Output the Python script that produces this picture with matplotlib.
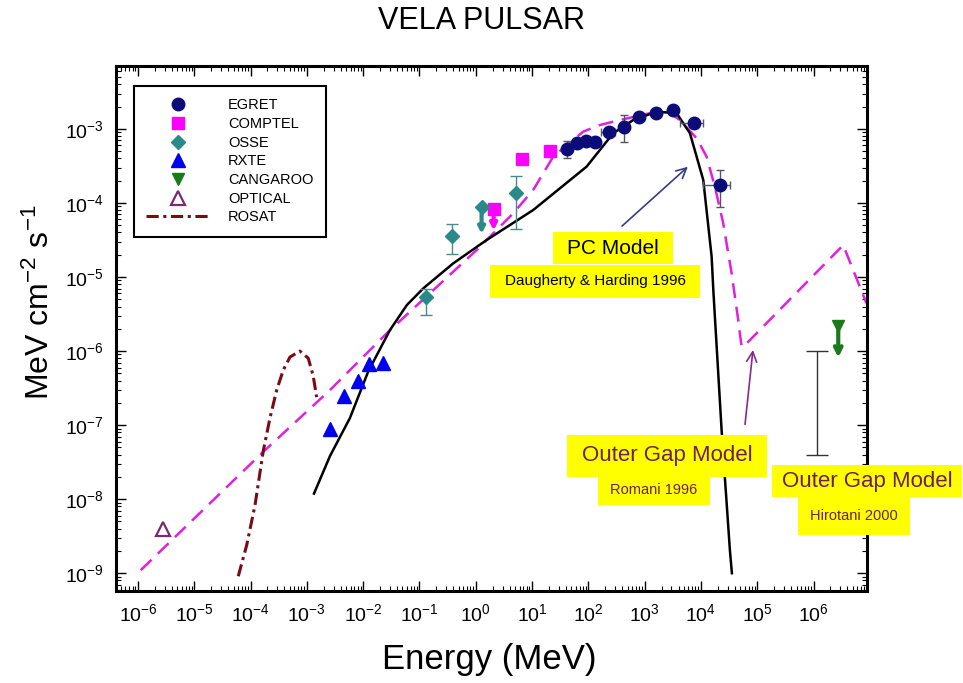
import matplotlib
matplotlib.use("Agg")
import matplotlib.pyplot as plt
import numpy as np
from matplotlib.patches import Rectangle
from matplotlib.ticker import LogLocator, NullFormatter

plt.rcParams["font.family"] = ["Liberation Sans", "DejaVu Sans"]
plt.rcParams["mathtext.default"] = "regular"
plt.rcParams["axes.unicode_minus"] = False

W, H = 963, 683

# --- observations (energy in MeV, flux in MeV cm^-2 s^-1) ---
egret_e = [42, 63, 91, 131, 235, 435, 800, 1585, 3220, 7500, 21800]
egret_f = [5.3e-4, 6.5e-4, 6.95e-4, 6.6e-4, 9.2e-4, 1.07e-3, 1.47e-3, 1.63e-3, 1.81e-3, 1.19e-3, 1.75e-4]
egret_f_lo = [4.1e-4, 6.5e-4, 6.95e-4, 6.6e-4, 9.2e-4, 6.7e-4, 1.47e-3, 1.63e-3, 1.81e-3, 1.19e-3, 8.9e-5]
egret_f_hi = [6.8e-4, 6.5e-4, 6.95e-4, 6.6e-4, 9.2e-4, 1.55e-3, 1.47e-3, 1.63e-3, 1.81e-3, 1.19e-3, 2.8e-4]
egret_e_lo = [42, 63, 91, 131, 165, 435, 800, 1585, 3220, 4240, 1.1e4]
egret_e_hi = [42, 63, 91, 131, 300, 435, 800, 1585, 3220, 1.1e4, 3.3e4]

comptel_e = [6.7, 20.8]
comptel_f = [3.94e-4, 5.1e-4]
comptel_ul_e = [2.08]
comptel_ul_f = [8.3e-5]
comptel_ul_to = [3.9e-5]

osse_e = [0.13, 0.373, 5.2]
osse_f = [5.4e-6, 3.6e-5, 1.38e-4]
osse_f_lo = [3.1e-6, 2.05e-5, 4.46e-5]
osse_f_hi = [7.0e-6, 5.2e-5, 2.3e-4]
osse_ul_e = [1.27]
osse_ul_f = [8.9e-5]
osse_ul_to = [3.5e-5]

rxte_e = [2.57e-3, 4.6e-3, 8.2e-3, 0.0127, 0.0227]
rxte_f = [9.0e-8, 2.47e-7, 3.9e-7, 6.6e-7, 6.8e-7]

cangaroo_e = [2.75e6]
cangaroo_f = [2.18e-6]
cangaroo_to = [7.5e-7]

optical_e = [2.8e-6]
optical_f = [4.0e-9]

hirotani_e = [1.16e6]
hirotani_lo = [3.9e-8]
hirotani_hi = [1.0e-6]

rosat_e = [6.05e-5, 8.53e-5, 1.20e-4, 1.68e-4, 2.21e-4, 2.91e-4, 3.81e-4,
           5.01e-4, 7.53e-4, 1.06e-3, 1.30e-3, 1.49e-3]
rosat_f = [9.1e-10, 2.39e-9, 8.3e-9, 4.46e-8, 1.24e-7, 2.97e-7, 5.53e-7,
           8.3e-7, 1.0e-6, 8.0e-7, 4.59e-7, 2.39e-7]

# --- models ---
pc_e = [1.34e-3, 2.57e-3, 5.83e-3, 1.23e-2, 2.99e-2, 0.06, 0.117, 0.398, 1.56, 10.5, 93.3,
        277, 627, 1630, 3700, 6380, 1.10e4, 1.55e4, 1.66e4, 2.33e4, 3.27e4, 3.55e4]
pc_f = [1.19e-8, 3.81e-8, 1.25e-7, 5.3e-7, 1.92e-6, 4.2e-6, 7.03e-6, 1.53e-5, 3.16e-5, 8.04e-5, 3.10e-4,
        8.75e-4, 1.32e-3, 1.71e-3, 1.63e-3, 8.75e-4, 2.05e-4, 1.88e-5, 6.67e-6, 8.55e-8, 2.05e-9, 1.0e-9]

og_e = [1.12e-6, 1.68e-4, 2.57e-3, 2.79e-2, 1.04, 2.05, 4.63, 10.5, 23.8, 81.1, 161, 364,
        2290, 4240, 8390, 1.26e4, 1.77e4, 2.49e4, 3.51e4, 4.60e4, 5.28e4, 6.49e4, 3.37e6, 8.71e6]
og_f = [1.10e-9, 4.36e-8, 2.97e-7, 1.82e-6, 2.32e-5, 3.89e-5, 7.26e-5, 1.50e-4, 4.23e-4, 9.20e-4,
        1.13e-3, 1.32e-3, 1.81e-3, 1.32e-3, 7.48e-4, 4.23e-4, 1.66e-4, 5.32e-5, 1.12e-5, 2.62e-6,
        1.14e-6, 1.27e-6, 2.70e-5, 4.42e-6]

fig = plt.figure(figsize=(W / 100, H / 100), dpi=100)
ax = fig.add_axes([116 / W, 1 - 591 / H, (867 - 116) / W, (591 - 66) / H])
ax.set_xscale("log")
ax.set_yscale("log")
ax.set_xlim(10 ** -6.39, 10 ** 6.95)
ax.set_ylim(10 ** -9.24, 10 ** -2.15)

# model curves
ax.plot(og_e, og_f, color="#e020e0", lw=1.8, ls=(0, (6, 3.5)), zorder=2)
ax.plot(pc_e, pc_f, color="black", lw=1.8, zorder=2)
ax.plot(rosat_e, rosat_f, color="#7a0a14", lw=2.2, ls=(0, (4, 1.5, 1, 1.5)),
        label="ROSAT", zorder=2)

# error bars
eg_e = np.array(egret_e)
eg_f = np.array(egret_f)
ax.errorbar(eg_e, eg_f,
            yerr=[eg_f - np.array(egret_f_lo), np.array(egret_f_hi) - eg_f],
            xerr=[eg_e - np.array(egret_e_lo), np.array(egret_e_hi) - eg_e],
            fmt="none", ecolor="#555566", elinewidth=1, capsize=3, zorder=3)
os_f = np.array(osse_f)
ax.errorbar(osse_e, os_f, yerr=[os_f - np.array(osse_f_lo), np.array(osse_f_hi) - os_f],
            fmt="none", ecolor="#4a8a8a", elinewidth=1, capsize=4, zorder=3)
hmid = np.sqrt(np.array(hirotani_lo) * np.array(hirotani_hi))
ax.errorbar(hirotani_e, hmid, yerr=[hmid - np.array(hirotani_lo), np.array(hirotani_hi) - hmid],
            fmt="none", ecolor="#333333", elinewidth=1, capsize=8, zorder=3)

# upper limit arrows
for e, f0, f1 in zip(comptel_ul_e, comptel_ul_f, comptel_ul_to):
    ax.annotate("", xy=(e, f1), xytext=(e, f0),
                arrowprops=dict(arrowstyle="-|>", color="#ff00ff", lw=3, mutation_scale=9))
for e, f0, f1 in zip(osse_ul_e, osse_ul_f, osse_ul_to):
    ax.annotate("", xy=(e, f1), xytext=(e, f0),
                arrowprops=dict(arrowstyle="-|>", color="#2a8a8a", lw=3, mutation_scale=9))
for e, f0, f1 in zip(cangaroo_e, cangaroo_f, cangaroo_to):
    ax.annotate("", xy=(e, f1), xytext=(e, f0),
                arrowprops=dict(arrowstyle="->", color="#1a7a1a", lw=3, mutation_scale=12))

# data markers
ax.plot(egret_e, egret_f, "o", color="#0c0c78", ms=9, ls="none", label="EGRET", zorder=4)
ax.plot(comptel_e, comptel_f, "s", color="#ff00ff", ms=9, ls="none", label="COMPTEL", zorder=4)
ax.plot(comptel_ul_e, comptel_ul_f, "s", color="#ff00ff", ms=9, ls="none", zorder=4)
ax.plot(osse_e, osse_f, "D", color="#2a8a8a", ms=7, ls="none", label="OSSE", zorder=4)
ax.plot(osse_ul_e, osse_ul_f, "D", color="#2a8a8a", ms=7, ls="none", zorder=4)
ax.plot(rxte_e, rxte_f, "^", color="#0000ee", ms=10, ls="none", label="RXTE", zorder=4)
ax.plot(cangaroo_e, cangaroo_f, "v", color="#1a7a1a", ms=9, ls="none", label="CANGAROO", zorder=4)
ax.plot(optical_e, optical_f, "^", mfc="none", mec="#7a2a6e", mew=1.6, ms=10, ls="none",
        label="OPTICAL", zorder=4)

# model arrows
ax.annotate("", xy=(6380, 3.27e-4), xytext=(364, 4.6e-5),
            arrowprops=dict(arrowstyle="->", color="#3a3a8a", lw=1.2, mutation_scale=18))
ax.annotate("", xy=(8.5e4, 1.13e-6), xytext=(6.0e4, 9.4e-8),
            arrowprops=dict(arrowstyle="->", color="#8a2a8a", lw=1.2, mutation_scale=18))

# axes styling
ax.set_xticks(10.0 ** np.arange(-6, 7))
ax.set_yticks(10.0 ** np.arange(-9, -2))
ax.xaxis.set_minor_locator(LogLocator(base=10, subs=np.arange(2, 10), numticks=100))
ax.yaxis.set_minor_locator(LogLocator(base=10, subs=np.arange(2, 10), numticks=100))
ax.xaxis.set_minor_formatter(NullFormatter())
ax.yaxis.set_minor_formatter(NullFormatter())
ax.tick_params(which="both", direction="in", top=True, right=True, labelsize=14)
ax.tick_params(which="major", length=7, width=1, pad=9)
ax.tick_params(which="minor", length=3.5, width=0.8)
for sp in ax.spines.values():
    sp.set_linewidth(2.2)

handles, labels = ax.get_legend_handles_labels()
order = ["EGRET", "COMPTEL", "OSSE", "RXTE", "CANGAROO", "OPTICAL", "ROSAT"]
hmap = dict(zip(labels, handles))
leg = ax.legend([hmap[k] for k in order], order, loc="upper left",
                bbox_to_anchor=(134 / W, 1 - 86 / H), bbox_transform=fig.transFigure,
                borderaxespad=0, fontsize=10.5, frameon=True, fancybox=False,
                edgecolor="black", framealpha=1, handlelength=4.4, handletextpad=1.2,
                borderpad=0.85, labelspacing=0.32)
leg.get_frame().set_linewidth(1.5)


def label_box(x0, y0, x1, y1, text, size, color):
    fig.add_artist(Rectangle((x0 / W, 1 - y1 / H), (x1 - x0) / W, (y1 - y0) / H,
                             transform=fig.transFigure, facecolor="#ffff00",
                             edgecolor="none", zorder=5))
    fig.text((x0 + x1) / 2 / W, 1 - (y0 + y1) / 2 / H, text, ha="center", va="center",
             fontsize=size, color=color, zorder=6)


label_box(490, 265, 700, 298, "Daugherty & Harding 1996", 11, "black")
label_box(553, 232, 673, 264, "PC Model", 15, "black")
label_box(598, 476, 710, 505, "Romani 1996", 10.5, "#6e1f50")
label_box(567, 435, 767, 477, "Outer Gap Model", 16, "#6e1f50")
label_box(798, 496, 910, 535, "Hirotani 2000", 10.5, "#6e1f50")
label_box(772, 465, 962, 497, "Outer Gap Model", 16, "#6e1f50")

fig.text(0.5, 1 - 21 / H, "VELA PULSAR", ha="center", va="center", fontsize=22)
fig.text(489 / W, 1 - 660 / H, "Energy (MeV)", ha="center", va="center", fontsize=25)
fig.text(40 / W, 1 - 302 / H, "MeV cm$^{-2}$ s$^{-1}$", ha="center", va="center",
         rotation=90, fontsize=23)

fig.savefig("out.png", dpi=100)
